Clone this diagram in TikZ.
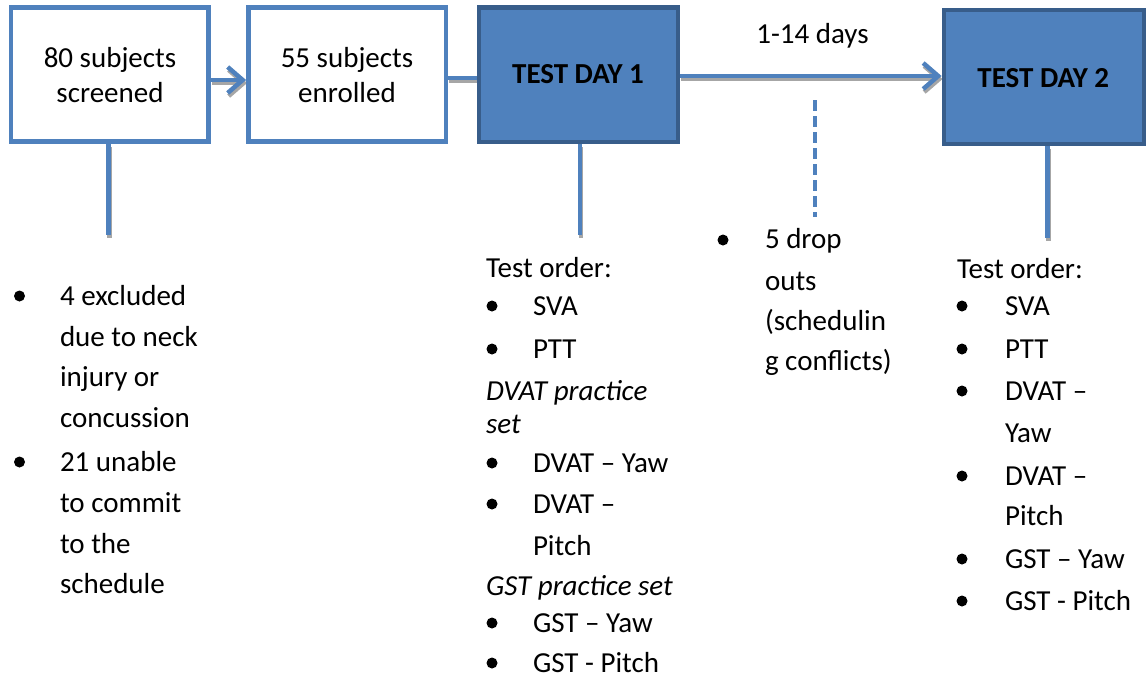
\documentclass[tikz,border=0pt]{standalone}
\usepackage{fontspec}
\setmainfont{Carlito}
\usetikzlibrary{arrows.meta}
\definecolor{boxblue}{HTML}{4F81BD}
\definecolor{boxdark}{HTML}{385D8A}
\definecolor{shadowgray}{HTML}{A6A6A6}
\begin{document}
\begin{tikzpicture}[x=1pt,y=-1pt,
  every node/.style={font=\fontsize{29}{35}\selectfont},
  whitebox/.style={draw=boxblue, line width=4.5pt, fill=white, inner sep=0pt},
  bluebox/.style={draw=boxdark, line width=4.8pt, fill=boxblue, inner sep=0pt},
  txt/.style={anchor=base west, inner sep=0pt, outer sep=0pt},
  itxt/.style={txt, font=\fontsize{29}{35}\selectfont\itshape},
  ctxt/.style={anchor=base, inner sep=0pt},
  btxt/.style={ctxt, font=\fontsize{29}{35}\selectfont\bfseries},
  bul/.style={circle, fill=black, inner sep=0pt, minimum size=11pt},
  conn/.style={draw=boxblue, line width=4.5pt,
    preaction={draw=shadowgray, line width=4.5pt, transform canvas={shift={(1pt,-3pt)}}}},
  chevron/.style={-{Straight Barb[length=15pt, width=26pt, line width=4.5pt]}},
  dropline/.style={draw=boxblue, line width=4pt, dash pattern=on 11pt off 5pt}
]
\useasboundingbox (0,0) rectangle (1146,683);

% coordinates for connectors
\coordinate (y1) at (0,80);
\coordinate (y2) at (0,78);
\coordinate (y3) at (0,76);
\coordinate (s1) at (108.7,235);
\coordinate (s3) at (580,235);
\coordinate (s4) at (1047.5,238);
\coordinate (d1) at (814.5,100);
\coordinate (d2) at (814.5,217);

% boxes (placed first so connectors can use their anchors)
\path node[whitebox, minimum width=197.5pt, minimum height=133.8pt] (b1) at (109.75,74.6) {}
      node[whitebox, minimum width=197.7pt, minimum height=133.8pt] (b2) at (347.2,74.6) {}
      node[bluebox, minimum width=199pt, minimum height=134.3pt] (b3) at (578.5,74.85) {}
      node[bluebox, minimum width=200pt, minimum height=134pt] (b4) at (1044,77) {};

% connectors
\draw[conn, chevron] (b1.east |- y1) -- (b2.west |- y1);
\draw[conn] (b2.east |- y2) -- (b3.west |- y2);
\draw[conn, chevron] (b3.east |- y3) -- (b4.west |- y3);
\draw[conn] (b1.south -| s1) -- (s1);
\draw[conn] (b3.south -| s3) -- (s3);
\draw[conn] (b4.south -| s4) -- (s4);
\draw[dropline] (d1) -- (d2);

% boxes on top
\node[whitebox, minimum width=197.5pt, minimum height=133.8pt] at (b1) {};
\node[whitebox, minimum width=197.7pt, minimum height=133.8pt] at (b2) {};
\node[bluebox, minimum width=199pt, minimum height=134.3pt] at (b3) {};
\node[bluebox, minimum width=200pt, minimum height=134pt] at (b4) {};

% box texts
\node[ctxt] (t1a) at (110,67) {80 subjects};
\node[ctxt] (t1b) at (110,102) {screened};
\node[ctxt] (t2a) at (347,67) {55 subjects};
\node[ctxt] (t2b) at (347,102) {enrolled};
\node[btxt] (t3) at (578,83) {TEST DAY 1};
\node[btxt] (t4) at (1043.3,87) {TEST DAY 2};
\node[ctxt] (days) at (812.5,43) {1-14 days};

% left list
\foreach \t/\y [count=\i] in {4 excluded/305, due to neck/346, injury or/386, concussion/427,
   21 unable/471, to commit/512, to the/553, schedule/593}
  \node[txt] (L\i) at (60,\y) {\t};
\foreach \y [count=\i] in {305,471}
  \node[bul] (LB\i) at (19.5,{\y-9}) {};

% test day 1 list
\node[txt] (A0) at (486,277) {Test order:};
\foreach \t/\y [count=\i] in {SVA/315, PTT/358, DVAT – Yaw/472, DVAT –/513, Pitch/555, GST – Yaw/632, GST - Pitch/672}
  \node[txt] (A\i) at (533,\y) {\t};
\node[itxt] (AI1) at (486,400) {DVAT practice};
\node[itxt] (AI2) at (486,433) {set};
\node[itxt] (AI3) at (486,595) {GST practice set};
\foreach \y [count=\i] in {315,358,472,513,632,672}
  \node[bul] (AB\i) at (492,{\y-9}) {};

% drop outs
\node[bul] (DB) at (723,240) {};
\node[txt] (D1) at (765,248) {5 drop};
\node[txt] (D2) at (765,290) {outs};
\node[txt] (D3) at (765,330) {(schedulin};
\node[txt] (D4) at (765,370) {g conflicts)};

% test day 2 list
\node[txt] (B0) at (957,278) {Test order:};
\foreach \t/\y [count=\i] in {SVA/315, PTT/358, DVAT –/400, Yaw/442, DVAT –/485, Pitch/525, GST – Yaw/568, GST - Pitch/610}
  \node[txt] (B\i) at (1005,\y) {\t};
\foreach \y [count=\i] in {315,358,400,485,568,610}
  \node[bul] (BB\i) at (962,{\y-9}) {};
\end{tikzpicture}
\end{document}
